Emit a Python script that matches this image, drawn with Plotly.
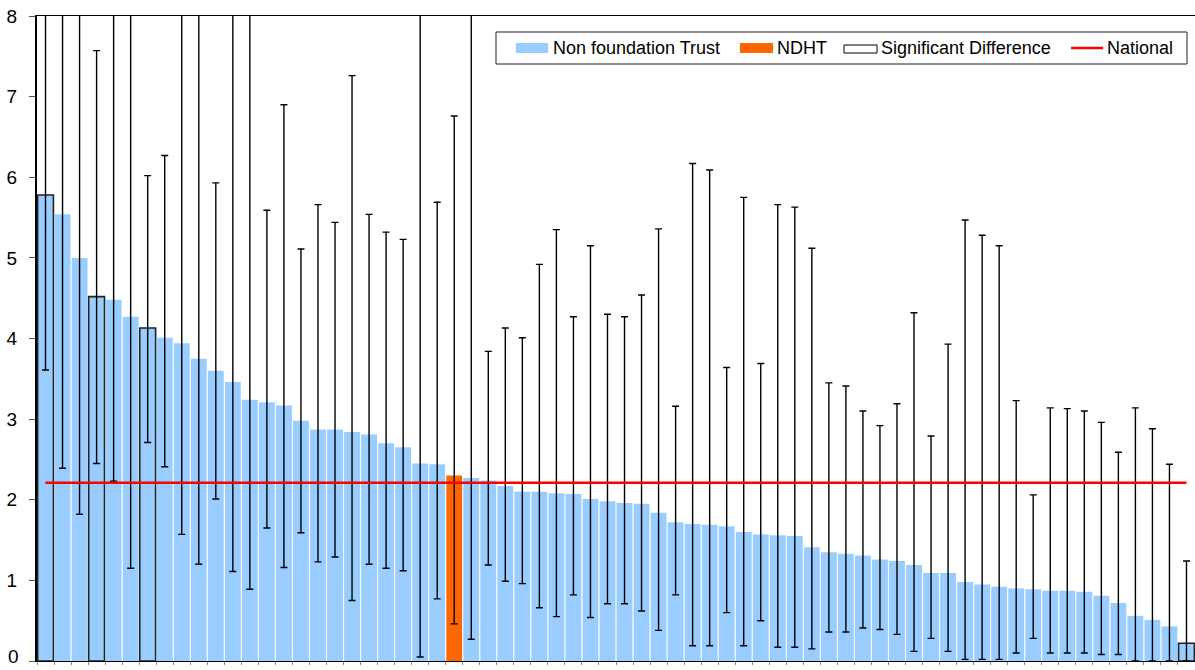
import plotly.graph_objects as go

# ---------------- data ----------------
ranks = [str(i) for i in range(1, 69)]

rate = [5.78, 5.54, 5.00, 4.52, 4.48, 4.27, 4.13, 4.01, 3.94, 3.75,
        3.60, 3.46, 3.24, 3.21, 3.17, 2.98, 2.87, 2.87, 2.84, 2.81,
        2.70, 2.65, 2.45, 2.44, 2.30, 2.27, 2.24, 2.17, 2.10, 2.10,
        2.08, 2.07, 2.01, 1.98, 1.96, 1.95, 1.84, 1.72, 1.70, 1.69,
        1.67, 1.60, 1.57, 1.56, 1.55, 1.41, 1.35, 1.33, 1.31, 1.26,
        1.24, 1.19, 1.09, 1.09, 0.98, 0.95, 0.92, 0.90, 0.89, 0.87,
        0.87, 0.86, 0.81, 0.72, 0.56, 0.51, 0.43, 0.22]

upper_ci = [10.0, 10.0, 10.0, 7.57, 10.0, 10.0, 6.02, 6.27, 10.0, 10.0,
            5.93, 10.0, 10.0, 5.59, 6.90, 5.11, 5.66, 5.44, 7.26, 5.54,
            5.32, 5.23, 10.0, 5.69, 6.76, 10.0, 3.84, 4.13, 4.01, 4.92,
            5.35, 4.27, 5.15, 4.30, 4.27, 4.54, 5.36, 3.16, 6.17, 6.09,
            3.64, 5.75, 3.69, 5.66, 5.63, 5.12, 3.45, 3.41, 3.10, 2.92,
            3.19, 4.32, 2.79, 3.93, 5.47, 5.28, 5.15, 3.23, 2.06, 3.14,
            3.13, 3.10, 2.96, 2.59, 3.14, 2.88, 2.44, 1.24]

lower_ci = [3.61, 2.39, 1.82, 2.45, 2.23, 1.15, 2.71, 2.41, 1.57, 1.20,
            2.01, 1.11, 0.89, 1.65, 1.16, 1.59, 1.23, 1.29, 0.75, 1.20,
            1.15, 1.12, 0.05, 0.77, 0.46, 0.27, 1.19, 0.99, 0.96, 0.66,
            0.55, 0.82, 0.54, 0.71, 0.71, 0.62, 0.38, 0.82, 0.19, 0.19,
            0.60, 0.19, 0.50, 0.17, 0.17, 0.15, 0.36, 0.36, 0.41, 0.39,
            0.33, 0.12, 0.28, 0.12, 0.02, 0.02, 0.02, 0.10, 0.28, 0.10,
            0.10, 0.10, 0.08, 0.08, 0.00, 0.00, 0.00, 0.00]

ndht_rank = "25"
significant = ["1", "4", "7", "68"]
national = 2.21

y_ticks = [0, 1, 2, 3, 4, 5, 6, 7, 8]
y_range = [0, 8]

# ---------------- styling ----------------
BLUE = "#99CCFF"
ORANGE = "#FF6600"
RED = "#FF0000"
FONT = "Liberation Sans, Arial, sans-serif"

colors = [ORANGE if r == ndht_rank else BLUE for r in ranks]
line_w = [1.6 if r in significant else 0 for r in ranks]
err_plus = [u - v for u, v in zip(upper_ci, rate)]
err_minus = [v - l for v, l in zip(rate, lower_ci)]

fig = go.Figure()
fig.add_trace(go.Bar(
    x=ranks, y=rate,
    marker=dict(color=colors, line=dict(color="#222222", width=line_w)),
    error_y=dict(type="data", symmetric=False, array=err_plus,
                 arrayminus=err_minus, color="#000000", thickness=1.4,
                 width=3.5),
    showlegend=False,
))
fig.add_trace(go.Scatter(
    x=ranks, y=[national] * len(ranks), mode="lines",
    line=dict(color=RED, width=2.5), showlegend=False,
))

# ---------------- manual legend ----------------
FIG_W, FIG_H = 1195, 670
L, T, B = 37, 16, 661
PW, PH = FIG_W - L, B - T


def px(x):
    return (x - L) / PW


def py(y):
    return (B - y) / PH


shapes = [
    dict(type="rect", xref="paper", yref="paper", x0=px(496), x1=px(1187),
         y0=py(64), y1=py(32), line=dict(color="#222222", width=1),
         fillcolor="white", layer="above"),
    dict(type="rect", xref="paper", yref="paper", x0=px(516), x1=px(548),
         y0=py(53), y1=py(43), line=dict(width=0), fillcolor=BLUE,
         layer="above"),
    dict(type="rect", xref="paper", yref="paper", x0=px(740), x1=px(773),
         y0=py(53), y1=py(43), line=dict(width=0), fillcolor=ORANGE,
         layer="above"),
    dict(type="rect", xref="paper", yref="paper", x0=px(844), x1=px(877),
         y0=py(53), y1=py(45), line=dict(color="#000000", width=1),
         fillcolor="white", layer="above"),
    dict(type="line", xref="paper", yref="paper", x0=px(1071), x1=px(1103),
         y0=py(48), y1=py(48), line=dict(color=RED, width=2.5),
         layer="above"),
]
legend_items = [("Non foundation Trust", 551), ("NDHT", 775),
                ("Significant Difference", 879), ("National", 1105)]
annotations = [
    dict(text=t, xref="paper", yref="paper", x=px(x0), y=py(48.5),
         xanchor="left", yanchor="middle", showarrow=False,
         font=dict(family=FONT, size=18, color="#000000"))
    for t, x0 in legend_items
]

# lowest tick label, written in paper space just above the page bottom
tick_text = [str(v) for v in y_ticks]
annotations.append(dict(
    text=tick_text[0], xref="paper", yref="paper", x=px(20), y=py(668),
    xanchor="right", yanchor="bottom", showarrow=False, borderpad=0,
    font=dict(family=FONT, size=19, color="#000000")))
axis_text = [""] + tick_text[1:]

fig.update_layout(
    width=FIG_W, height=FIG_H,
    margin=dict(l=L, r=0, t=T, b=FIG_H - B),
    paper_bgcolor="white", plot_bgcolor="white",
    bargap=0.07,
    font=dict(family=FONT, size=19, color="#000000"),
    shapes=shapes, annotations=annotations,
    xaxis=dict(showline=True, linecolor="#000000", linewidth=1.2,
               mirror=True, showticklabels=False, ticks="outside",
               tickson="boundaries", ticklen=3, tickcolor="#888888",
               showgrid=False, zeroline=False, fixedrange=True),
    yaxis=dict(range=y_range, tickvals=y_ticks, ticktext=axis_text,
               showline=True,
               linecolor="#000000", linewidth=2, ticks="outside",
               ticklen=6, tickcolor="#555555", showgrid=False,
               zeroline=False, ticklabelstandoff=8,
               ticklabeloverflow="allow", fixedrange=True,
               tickfont=dict(family=FONT, size=19, color="#000000")),
)

fig.write_html(
    "out.html",
    config={"displayModeBar": False, "staticPlot": True},
    post_script="document.body.style.margin='0';"
                "document.body.style.overflow='hidden';",
)
